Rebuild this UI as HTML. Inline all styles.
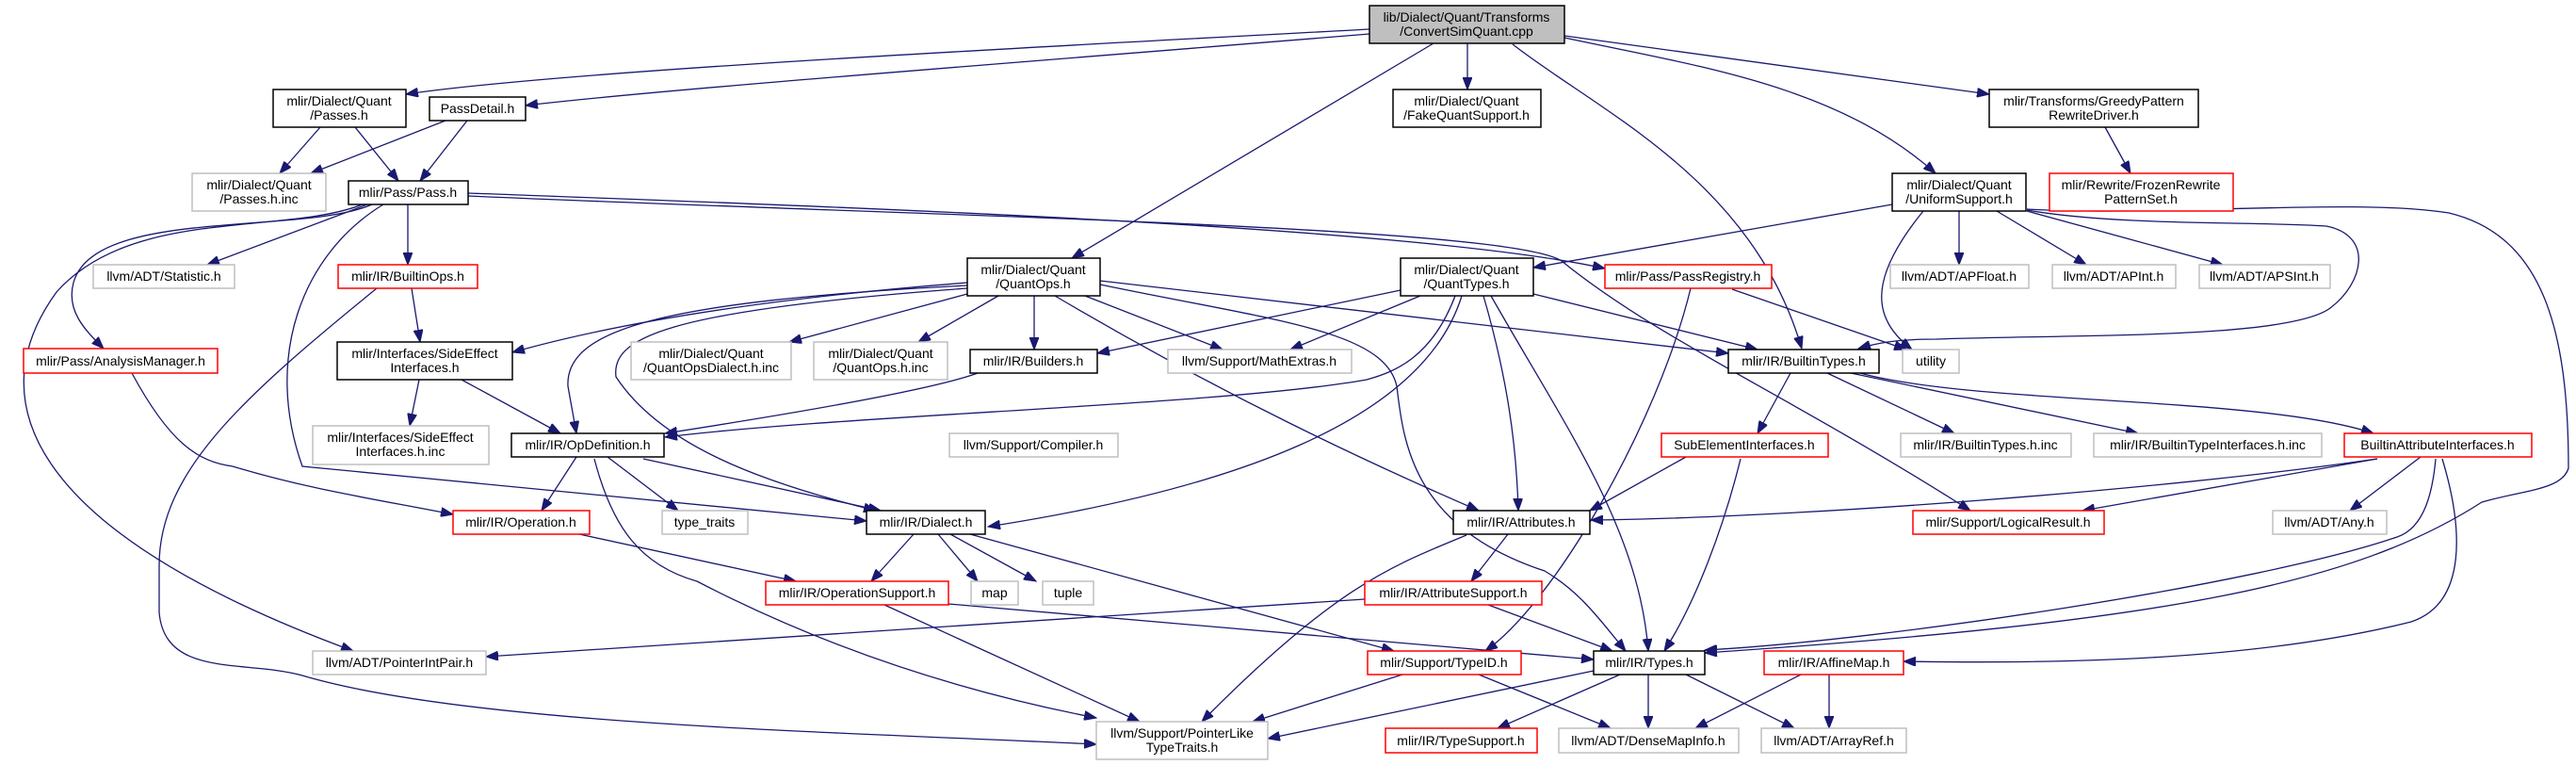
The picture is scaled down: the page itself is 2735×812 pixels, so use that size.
<!DOCTYPE html>
<html><head><meta charset="utf-8"><style>
html,body{margin:0;padding:0;background:#fff;}
svg{display:block;}
text{font-family:"Liberation Sans",sans-serif;font-size:14px;fill:#000;text-anchor:middle;}
.b{fill:#fff;stroke:#000;stroke-width:1.5;}
.g{fill:#fff;stroke:#bfbfbf;stroke-width:1.5;}
.r{fill:#fff;stroke:#ff0000;stroke-width:1.5;}
.e{fill:none;stroke:#191970;stroke-width:1.3;marker-end:url(#a);}
</style></head><body>
<svg width="2735" height="812" viewBox="0 0 2735 812" xmlns="http://www.w3.org/2000/svg">
<defs><marker id="a" markerUnits="userSpaceOnUse" markerWidth="14" markerHeight="10" refX="13" refY="5" orient="auto"><path d="M0,0 L13,5 L0,10 z" fill="#191970" stroke="#191970"/></marker></defs>

<!-- edges -->
<g>
<path class="e" d="M1454,31 C1100,50 600,75 431,100"/>
<path class="e" d="M1454,36 C1100,65 700,95 558,112"/>
<path class="e" d="M1558,46 L1558,95"/>
<path class="e" d="M1522,46 L1138,274"/>
<path class="e" d="M1606,47 C1700,120 1860,190 1913,370"/>
<path class="e" d="M1661,40 C1800,70 1950,90 2055,184"/>
<path class="e" d="M1661,38 L2112,100"/>
<path class="e" d="M340,135 L297,184"/>
<path class="e" d="M377,135 L423,192"/>
<path class="e" d="M473,128 L330,184"/>
<path class="e" d="M496,128 L446,192"/>
<path class="e" d="M390,217 L220,281"/>
<path class="e" d="M433,217 L433,281"/>
<path class="e" d="M395,217 C320,250 100,220 78,300 C70,330 90,350 110,370"/>
<path class="e" d="M385,217 C300,250 140,220 60,310 C-20,420 20,560 375,691"/>
<path class="e" d="M407,217 C320,270 280,380 321,495 L920,553"/>
<path class="e" d="M497,205 C900,220 1500,240 1704,285"/>
<path class="e" d="M497,208 C1000,230 1600,240 1658,277 C1760,360 1900,420 2092,542"/>
<path class="e" d="M400,306 C260,420 169,500 169,600 L169,650 C175,720 260,700 321,717 C500,770 900,777 1164,790"/>
<path class="e" d="M140,396 C180,470 210,490 247,495 C330,520 400,530 481,546"/>
<path class="e" d="M437,306 L446,363"/>
<path class="e" d="M445,403 L435,452"/>
<path class="e" d="M490,403 L595,460"/>
<path class="e" d="M1027,300 C900,310 700,330 544,374"/>
<path class="e" d="M1027,312 L838,363"/>
<path class="e" d="M1060,314 L975,363"/>
<path class="e" d="M1098,314 L1098,371"/>
<path class="e" d="M1152,314 L1298,371"/>
<path class="e" d="M1027,303 C700,320 600,350 603,410 L612,460"/>
<path class="e" d="M1027,306 C700,330 649,360 654,400 C700,470 800,510 930,542"/>
<path class="e" d="M1120,314 C1300,420 1450,490 1570,542"/>
<path class="e" d="M1168,302 C1350,340 1470,350 1483,410 C1490,470 1500,560 1640,606 C1680,630 1700,660 1726,691"/>
<path class="e" d="M1168,298 L1835,375"/>
<path class="e" d="M1628,312 L1866,371"/>
<path class="e" d="M1487,308 L1165,375"/>
<path class="e" d="M1508,314 L1370,371"/>
<path class="e" d="M1545,314 C1520,380 1480,395 1451,403 C1300,430 900,440 706,464"/>
<path class="e" d="M1038,396 C1000,410 900,430 706,460"/>
<path class="e" d="M1552,314 C1510,450 1300,520 1049,559"/>
<path class="e" d="M1575,314 C1600,400 1610,470 1612,542"/>
<path class="e" d="M1583,314 C1660,450 1740,560 1750,691"/>
<path class="e" d="M1795,306 C1760,450 1650,640 1577,691"/>
<path class="e" d="M1839,307 L2024,371"/>
<path class="e" d="M2235,135 L2262,184"/>
<path class="e" d="M2009,217 L1628,284"/>
<path class="e" d="M2080,224 L2080,281"/>
<path class="e" d="M2120,224 L2215,281"/>
<path class="e" d="M2152,224 L2360,281"/>
<path class="e" d="M2042,224 C1980,300 1990,340 2030,371"/>
<path class="e" d="M2152,223 C2250,240 2400,235 2470,240 C2520,250 2510,300 2474,327 C2430,360 2200,355 2056,360 C2010,360 1990,365 1973,370"/>
<path class="e" d="M2152,222 C2300,230 2500,210 2600,226 C2700,250 2727,350 2727,497 C2720,520 2680,520 2635,533 C2500,620 2300,660 1810,693"/>
<path class="e" d="M2593,487 C2615,560 2620,640 2560,660 C2400,700 2200,705 2021,702"/>
<path class="e" d="M2586,487 C2583,520 2575,560 2545,570 C2400,620 2000,680 1810,690"/>
<path class="e" d="M1901,396 L1866,460"/>
<path class="e" d="M1940,396 L2075,460"/>
<path class="e" d="M1965,396 L2270,460"/>
<path class="e" d="M1975,396 C2100,430 2400,420 2520,460"/>
<path class="e" d="M1790,485 L1688,542"/>
<path class="e" d="M1848,487 C1830,560 1800,640 1767,691"/>
<path class="e" d="M2524,487 C2300,520 1900,550 1689,552"/>
<path class="e" d="M2524,487 L2211,542"/>
<path class="e" d="M2570,485 L2495,542"/>
<path class="e" d="M612,485 L575,542"/>
<path class="e" d="M645,485 L720,542"/>
<path class="e" d="M683,487 L935,542"/>
<path class="e" d="M631,487 C650,560 680,600 740,617 C900,700 1050,740 1164,762"/>
<path class="e" d="M615,567 L845,617"/>
<path class="e" d="M970,567 L925,617"/>
<path class="e" d="M996,567 L1038,617"/>
<path class="e" d="M1009,567 L1100,617"/>
<path class="e" d="M1030,567 L1480,691"/>
<path class="e" d="M1007,641 L1692,700"/>
<path class="e" d="M939,642 L1210,766"/>
<path class="e" d="M1449,636 L516,697"/>
<path class="e" d="M1580,642 L1712,691"/>
<path class="e" d="M1601,567 L1562,617"/>
<path class="e" d="M1557,568 C1480,600 1420,620 1276,766"/>
<path class="e" d="M1489,716 L1330,766"/>
<path class="e" d="M1570,716 L1710,773"/>
<path class="e" d="M1692,712 L1346,784"/>
<path class="e" d="M1720,716 L1590,773"/>
<path class="e" d="M1750,716 L1750,773"/>
<path class="e" d="M1790,716 L1905,773"/>
<path class="e" d="M1912,716 L1800,773"/>
<path class="e" d="M1942,716 L1942,773"/>
</g>

<!-- nodes -->
<g>
<rect x="1454" y="6" width="207" height="40" fill="#bfbfbf" stroke="#000" stroke-width="1.5"/>
<text x="1557" y="23">lib/Dialect/Quant/Transforms</text><text x="1557" y="38">/ConvertSimQuant.cpp</text>

<rect class="b" x="290" y="95" width="141" height="40"/><text x="360" y="112">mlir/Dialect/Quant</text><text x="360" y="127">/Passes.h</text>
<rect class="b" x="456" y="103" width="102" height="25"/><text x="507" y="120">PassDetail.h</text>
<rect class="b" x="1479" y="95" width="157" height="40"/><text x="1557" y="112">mlir/Dialect/Quant</text><text x="1557" y="127">/FakeQuantSupport.h</text>
<rect class="b" x="2112" y="95" width="222" height="40"/><text x="2223" y="112">mlir/Transforms/GreedyPattern</text><text x="2223" y="127">RewriteDriver.h</text>

<rect class="g" x="204" y="184" width="142" height="40"/><text x="275" y="201">mlir/Dialect/Quant</text><text x="275" y="216">/Passes.h.inc</text>
<rect class="b" x="370" y="192" width="127" height="25"/><text x="433" y="209">mlir/Pass/Pass.h</text>
<rect class="b" x="2009" y="184" width="142" height="40"/><text x="2080" y="201">mlir/Dialect/Quant</text><text x="2080" y="216">/UniformSupport.h</text>
<rect class="r" x="2176" y="184" width="195" height="40"/><text x="2273" y="201">mlir/Rewrite/FrozenRewrite</text><text x="2273" y="216">PatternSet.h</text>

<rect class="g" x="99" y="281" width="150" height="25"/><text x="174" y="298">llvm/ADT/Statistic.h</text>
<rect class="r" x="359" y="281" width="148" height="25"/><text x="433" y="298">mlir/IR/BuiltinOps.h</text>
<rect class="b" x="1027" y="274" width="141" height="40"/><text x="1097" y="291">mlir/Dialect/Quant</text><text x="1097" y="306">/QuantOps.h</text>
<rect class="b" x="1487" y="274" width="141" height="40"/><text x="1557" y="291">mlir/Dialect/Quant</text><text x="1557" y="306">/QuantTypes.h</text>
<rect class="r" x="1704" y="281" width="177" height="25"/><text x="1792" y="298">mlir/Pass/PassRegistry.h</text>
<rect class="g" x="2007" y="281" width="147" height="25"/><text x="2080" y="298">llvm/ADT/APFloat.h</text>
<rect class="g" x="2179" y="281" width="131" height="25"/><text x="2244" y="298">llvm/ADT/APInt.h</text>
<rect class="g" x="2335" y="281" width="139" height="25"/><text x="2404" y="298">llvm/ADT/APSInt.h</text>

<rect class="r" x="25" y="370" width="206" height="26"/><text x="128" y="388">mlir/Pass/AnalysisManager.h</text>
<rect class="b" x="358" y="363" width="186" height="40"/><text x="451" y="380">mlir/Interfaces/SideEffect</text><text x="451" y="395">Interfaces.h</text>
<rect class="g" x="670" y="363" width="170" height="40"/><text x="755" y="380">mlir/Dialect/Quant</text><text x="755" y="395">/QuantOpsDialect.h.inc</text>
<rect class="g" x="864" y="363" width="142" height="40"/><text x="935" y="380">mlir/Dialect/Quant</text><text x="935" y="395">/QuantOps.h.inc</text>
<rect class="b" x="1030" y="371" width="135" height="25"/><text x="1097" y="388">mlir/IR/Builders.h</text>
<rect class="g" x="1240" y="371" width="195" height="25"/><text x="1337" y="388">llvm/Support/MathExtras.h</text>
<rect class="b" x="1835" y="371" width="160" height="25"/><text x="1915" y="388">mlir/IR/BuiltinTypes.h</text>
<rect class="g" x="2020" y="371" width="60" height="25"/><text x="2050" y="388">utility</text>

<rect class="g" x="332" y="452" width="187" height="41"/><text x="425" y="469">mlir/Interfaces/SideEffect</text><text x="425" y="484">Interfaces.h.inc</text>
<rect class="b" x="543" y="460" width="162" height="25"/><text x="624" y="477">mlir/IR/OpDefinition.h</text>
<rect class="g" x="1008" y="460" width="179" height="25"/><text x="1097" y="477">llvm/Support/Compiler.h</text>
<rect class="r" x="1764" y="460" width="177" height="25"/><text x="1852" y="477">SubElementInterfaces.h</text>
<rect class="g" x="2018" y="460" width="181" height="25"/><text x="2108" y="477">mlir/IR/BuiltinTypes.h.inc</text>
<rect class="g" x="2223" y="460" width="242" height="25"/><text x="2344" y="477">mlir/IR/BuiltinTypeInterfaces.h.inc</text>
<rect class="r" x="2489" y="460" width="199" height="25"/><text x="2588" y="477">BuiltinAttributeInterfaces.h</text>

<rect class="r" x="481" y="542" width="145" height="25"/><text x="553" y="559">mlir/IR/Operation.h</text>
<rect class="g" x="703" y="542" width="91" height="25"/><text x="748" y="559">type_traits</text>
<rect class="b" x="920" y="542" width="126" height="25"/><text x="983" y="559">mlir/IR/Dialect.h</text>
<rect class="b" x="1543" y="542" width="145" height="25"/><text x="1615" y="559">mlir/IR/Attributes.h</text>
<rect class="r" x="2031" y="542" width="203" height="25"/><text x="2132" y="559">mlir/Support/LogicalResult.h</text>
<rect class="g" x="2413" y="542" width="121" height="25"/><text x="2473" y="559">llvm/ADT/Any.h</text>

<rect class="r" x="813" y="617" width="194" height="25"/><text x="910" y="634">mlir/IR/OperationSupport.h</text>
<rect class="g" x="1031" y="617" width="50" height="25"/><text x="1056" y="634">map</text>
<rect class="g" x="1107" y="617" width="54" height="25"/><text x="1134" y="634">tuple</text>
<rect class="r" x="1449" y="617" width="188" height="25"/><text x="1543" y="634">mlir/IR/AttributeSupport.h</text>

<rect class="g" x="332" y="691" width="184" height="25"/><text x="424" y="708">llvm/ADT/PointerIntPair.h</text>
<rect class="r" x="1452" y="691" width="163" height="25"/><text x="1533" y="708">mlir/Support/TypeID.h</text>
<rect class="b" x="1692" y="691" width="118" height="25"/><text x="1751" y="708">mlir/IR/Types.h</text>
<rect class="r" x="1873" y="691" width="148" height="25"/><text x="1947" y="708">mlir/IR/AffineMap.h</text>

<rect class="g" x="1164" y="766" width="182" height="40"/><text x="1255" y="783">llvm/Support/PointerLike</text><text x="1255" y="798">TypeTraits.h</text>
<rect class="r" x="1471" y="773" width="161" height="26"/><text x="1551" y="791">mlir/IR/TypeSupport.h</text>
<rect class="g" x="1655" y="773" width="191" height="26"/><text x="1750" y="791">llvm/ADT/DenseMapInfo.h</text>
<rect class="g" x="1870" y="773" width="154" height="26"/><text x="1947" y="791">llvm/ADT/ArrayRef.h</text>
</g>
</svg>
</body></html>
